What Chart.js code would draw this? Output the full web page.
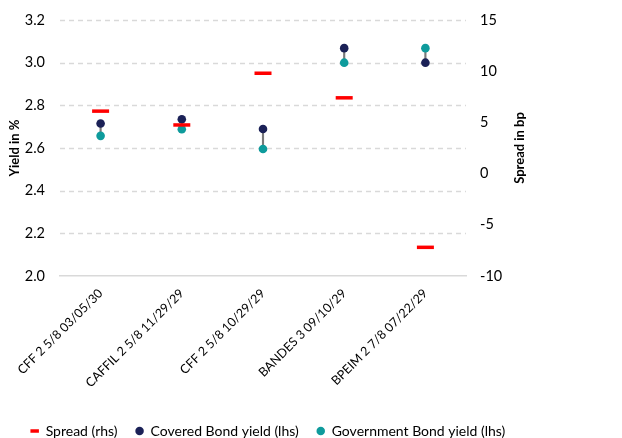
<!DOCTYPE html>
<html>
<head>
<meta charset="utf-8">
<script src="https://cdn.jsdelivr.net/npm/chart.js@4/dist/chart.umd.min.js"></script>
<style>
  html, body { margin: 0; padding: 0; background: #fff; overflow: hidden; }
  #wrap { width: 622px; height: 438px; }
</style>
</head>
<body>
<div id="wrap"><canvas id="c" width="622" height="438"></canvas></div>
<script>
// Bonds compared
const bonds = [
  'CFF 2 5/8 03/05/30',
  'CAFFIL 2 5/8 11/29/29',
  'CFF 2 5/8 10/29/29',
  'BANDES 3 09/10/29',
  'BPEIM 2 7/8 07/22/29'
];
// Yields in %
const coveredYield = [2.715, 2.735, 2.689, 3.068, 3.0];
const governmentYield = [2.657, 2.688, 2.595, 3.0, 3.068];
// Spread in bp
const spreadBp = [6.1, 4.75, 9.8, 7.4, -7.2];

const yieldTicks = { min: 2.0, max: 3.2, step: 0.2 };
const spreadTicks = { min: -10, max: 15, step: 5 };

const NAVY = '#1b2157';
const TEAL = '#0e9b9c';
const RED = '#ff0000';
const GRID = '#d9d9d9';
const FONT = 'Lato, "Liberation Sans", sans-serif';

Chart.defaults.font.family = FONT;
Chart.defaults.color = '#000';

// vertical connector between the two yields of each bond
const connectors = bonds.map((_, i) => [governmentYield[i], coveredYield[i]]);

// dashed horizontal gridlines on the yield axis (the 2.0 baseline is the x axis line)
const dashedGrid = {
  id: 'dashedGrid',
  beforeDatasetsDraw(chart) {
    const { ctx, chartArea } = chart;
    const yScale = chart.scales.y;
    ctx.save();
    ctx.strokeStyle = GRID;
    ctx.lineWidth = 1.3;
    ctx.setLineDash([5, 4]);
    yScale.ticks.forEach((t) => {
      if (t.value <= yieldTicks.min) return;
      const py = Math.round(yScale.getPixelForValue(t.value)) + 0.5;
      ctx.beginPath();
      ctx.moveTo(chartArea.left, py);
      ctx.lineTo(chartArea.right, py);
      ctx.stroke();
    });
    ctx.restore();
  }
};

// right-hand axis title, reading bottom to top like the left one
const rightTitle = {
  id: 'rightTitle',
  afterDraw(chart) {
    const { ctx, chartArea } = chart;
    const cy = (chartArea.top + chartArea.bottom) / 2;
    ctx.save();
    ctx.translate(520, cy);
    ctx.rotate(-Math.PI / 2);
    ctx.font = 'bold 13px ' + FONT;
    ctx.fillStyle = '#000';
    ctx.textAlign = 'center';
    ctx.textBaseline = 'middle';
    ctx.fillText('Spread in bp', 0, 0);
    ctx.restore();
  }
};

new Chart(document.getElementById('c'), {
  type: 'bar',
  data: {
    labels: bonds,
    datasets: [
      {
        type: 'line',
        label: 'Spread (rhs)',
        data: spreadBp,
        yAxisID: 'y1',
        showLine: false,
        pointStyle: 'line',
        pointRadius: 8.5,
        pointHoverRadius: 8.5,
        pointBorderWidth: 3.5,
        borderColor: RED,
        backgroundColor: RED,
        order: 0
      },
      {
        type: 'line',
        label: 'Covered Bond yield (lhs)',
        data: coveredYield,
        yAxisID: 'y',
        showLine: false,
        pointStyle: 'circle',
        pointRadius: 4.3,
        pointBorderWidth: 0,
        borderColor: NAVY,
        backgroundColor: NAVY,
        order: 1
      },
      {
        type: 'line',
        label: 'Government Bond yield (lhs)',
        data: governmentYield,
        yAxisID: 'y',
        showLine: false,
        pointStyle: 'circle',
        pointRadius: 4.3,
        pointBorderWidth: 0,
        borderColor: TEAL,
        backgroundColor: TEAL,
        order: 2
      },
      {
        type: 'bar',
        label: 'connector',
        data: connectors,
        yAxisID: 'y',
        backgroundColor: '#7a7a7a',
        barThickness: 1.5,
        order: 3
      }
    ]
  },
  plugins: [dashedGrid, rightTitle],
  options: {
    responsive: false,
    animation: false,
    layout: { padding: { left: 0, right: 86, top: 20, bottom: -10 } },
    plugins: {
      tooltip: { enabled: false },
      legend: {
        position: 'bottom',
        labels: {
          filter: (item) => item.text !== 'connector',
          usePointStyle: true,
          boxWidth: 8,
          boxHeight: 6,
          padding: 18,
          font: { size: 14, family: FONT },
          color: '#000'
        }
      }
    },
    scales: {
      x: {
        grid: { display: false, drawTicks: false },
        border: { color: GRID, width: 1.5 },
        ticks: {
          maxRotation: 45,
          minRotation: 45,
          padding: 10,
          font: { size: 12.5 },
          color: '#000'
        },
        afterFit(scale) {
          scale.paddingLeft = 0;
          scale.paddingRight = 0;
          scale.height = 130;
        }
      },
      y: {
        position: 'left',
        min: yieldTicks.min,
        max: yieldTicks.max,
        ticks: {
          stepSize: yieldTicks.step,
          padding: 15,
          font: { size: 14.5 },
          color: '#000',
          callback: (v) => v.toFixed(1)
        },
        grid: { display: false, drawTicks: false },
        border: { display: false },
        title: { display: true, text: 'Yield in %', font: { size: 13, weight: 'bold' }, color: '#000', padding: 7 },
        afterFit(scale) {
          scale.width = 60;
          scale.paddingTop = 0;
          scale.paddingBottom = 0;
        }
      },
      y1: {
        position: 'right',
        min: spreadTicks.min,
        max: spreadTicks.max,
        ticks: {
          stepSize: spreadTicks.step,
          padding: 14,
          font: { size: 14.5 },
          color: '#000'
        },
        grid: { display: false, drawTicks: false },
        border: { display: false },
        title: { display: false },
        afterFit(scale) {
          scale.width = 70;
          scale.paddingTop = 0;
          scale.paddingBottom = 0;
        }
      }
    }
  }
});
</script>
</body>
</html>
